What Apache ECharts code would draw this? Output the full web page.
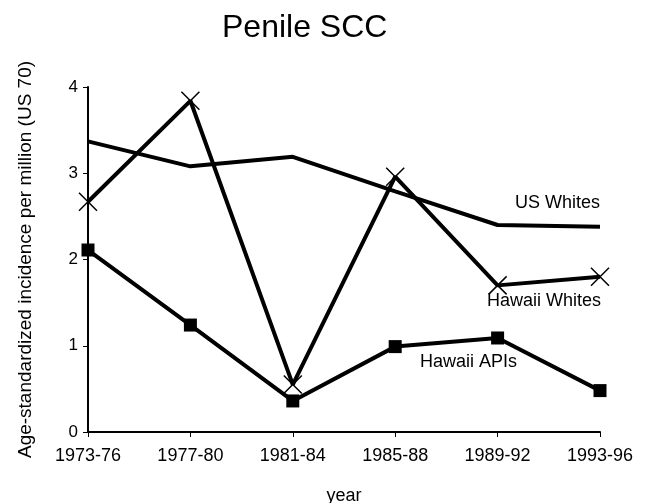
<!DOCTYPE html>
<html>
<head>
<meta charset="utf-8">
<script src="https://cdn.jsdelivr.net/npm/echarts@6/dist/echarts.min.js"></script>
<style>
  html, body { margin: 0; padding: 0; background: #fff; }
  #chart { width: 649px; height: 503px; }
</style>
</head>
<body>
<div id="chart"></div>
<script>
const periods = ['1973-76', '1977-80', '1981-84', '1985-88', '1989-92', '1993-96']
const usWhites = [3.37, 3.08, 3.19, 2.79, 2.40, 2.38]
const hawaiiWhites = [2.67, 3.84, 0.55, 2.96, 1.70, 1.80]
const hawaiiApis = [2.11, 1.24, 0.36, 0.99, 1.09, 0.48]

const font = 'Liberation Sans, Arial, sans-serif'
const chart = echarts.init(document.getElementById('chart'))

// line markers are drawn as strokes, so the X needs a border
const xMark = 'path://M0,0L20,20M20,0L0,20'

chart.setOption({
  animation: false,
  title: {
    text: 'Penile SCC',
    left: 217,
    top: 7,
    textStyle: { fontFamily: font, fontSize: 32, fontWeight: 'normal', color: '#000' }
  },
  grid: { left: 88, right: 49, top: 87, bottom: 71, outerBoundsMode: 'none' },
  xAxis: {
    type: 'category',
    data: periods,
    boundaryGap: false,
    name: 'year',
    nameLocation: 'middle',
    nameGap: 55,
    nameTextStyle: { fontFamily: font, fontSize: 18, color: '#000' },
    axisLine: { lineStyle: { color: '#000', width: 2 } },
    axisTick: { length: 5, lineStyle: { color: '#000' } },
    axisLabel: { fontFamily: font, fontSize: 18, color: '#000', margin: 15 }
  },
  yAxis: {
    type: 'value',
    min: 0,
    max: 4,
    interval: 1,
    name: 'Age-standardized incidence per million (US 70)',
    nameLocation: 'middle',
    nameGap: 53,
    nameTextStyle: { fontFamily: font, fontSize: 19, color: '#000' },
    axisLine: { show: true, lineStyle: { color: '#000', width: 2 } },
    axisTick: { show: true, length: 5, lineStyle: { color: '#000' } },
    axisLabel: { fontFamily: font, fontSize: 17, color: '#000', margin: 10 },
    splitLine: { show: false }
  },
  series: [
    {
      name: 'US Whites',
      type: 'line',
      data: usWhites,
      showSymbol: false,
      symbol: 'none',
      lineStyle: { color: '#000', width: 4 }
    },
    {
      name: 'Hawaii Whites',
      type: 'line',
      data: hawaiiWhites,
      symbol: xMark,
      symbolSize: 18,
      itemStyle: { color: 'transparent', borderColor: '#000', borderWidth: 1.5 },
      lineStyle: { color: '#000', width: 4 }
    },
    {
      name: 'Hawaii APIs',
      type: 'line',
      data: hawaiiApis,
      symbol: 'rect',
      symbolSize: 13,
      itemStyle: { color: '#000' },
      lineStyle: { color: '#000', width: 4 }
    }
  ],
  graphic: [
    { type: 'text', left: 515, top: 194, style: { text: 'US Whites', font: '18px ' + font, fill: '#000' } },
    { type: 'text', left: 487, top: 292, style: { text: 'Hawaii Whites', font: '18px ' + font, fill: '#000' } },
    { type: 'text', left: 420, top: 353, style: { text: 'Hawaii APIs', font: '18px ' + font, fill: '#000' } }
  ]
})
</script>
</body>
</html>
